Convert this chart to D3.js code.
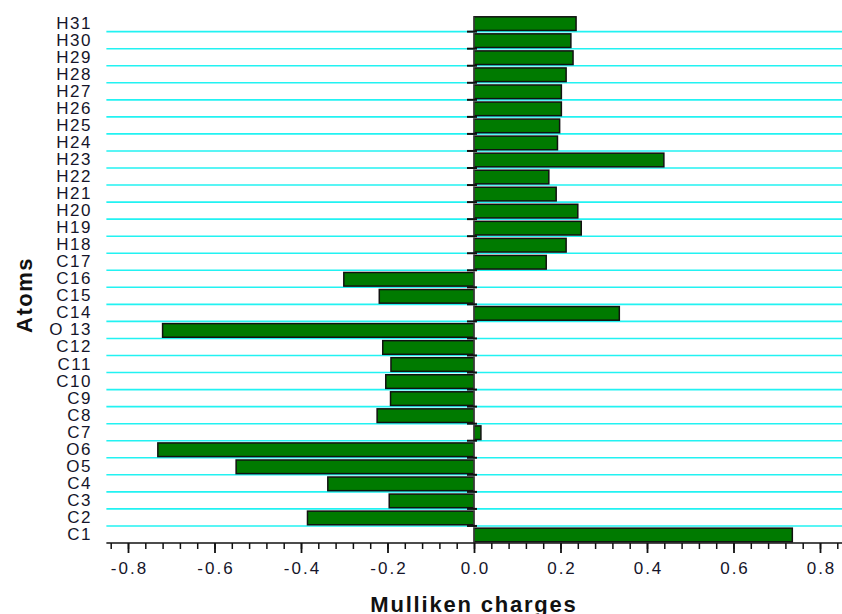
<!DOCTYPE html>
<html lang="en">
<head>
  <meta charset="utf-8">
  <title>Mulliken charges</title>
  <script src="https://cdn.jsdelivr.net/npm/d3@7"></script>
  <style>
    body { margin: 0; background: #fff; }
    svg { display: block; font-family: Arial, "Liberation Sans", sans-serif; }
  </style>
</head>
<body>
  <div id="chart"></div>

  <script>
    // atoms from top (H31) to bottom (C1)
    const atoms = ["H31", "H30", "H29", "H28", "H27", "H26", "H25", "H24", "H23", "H22",
      "H21", "H20", "H19", "H18", "C17", "C16", "C15", "C14", "O 13", "C12",
      "C11", "C10", "C9", "C8", "C7", "O6", "O5", "C4", "C3", "C2", "C1"]
    const charges = [0.236, 0.224, 0.229, 0.213, 0.202, 0.202, 0.198, 0.193, 0.439, 0.173,
      0.190, 0.240, 0.248, 0.213, 0.167, -0.301, -0.219, 0.336, -0.720, -0.211,
      -0.192, -0.204, -0.193, -0.224, 0.016, -0.731, -0.550, -0.338, -0.196, -0.385, 0.736]
    const majorTicks = [-0.8, -0.6, -0.4, -0.2, 0, 0.2, 0.4, 0.6, 0.8]
    const minorTicks = d3.range(-21, 22).map(i => i * 0.04)

    const width = 842, height = 614
    const svg = d3.select("#chart").append("svg")
      .attr("width", width).attr("height", height)

    const plotTop = 14.6, plotBottom = 543
    const x = d3.scaleLinear().domain([-0.8, 0.8]).range([128, 820])
    const y = d3.scaleBand().domain(atoms).range([plotTop, plotBottom]).paddingInner(0.2).paddingOuter(0.1)
    const step = y.step()

    // cyan separators between rows
    svg.append("g").selectAll("line")
      .data(d3.range(1, atoms.length))
      .join("line")
      .attr("x1", x(-0.85)).attr("x2", width)
      .attr("y1", i => plotTop + i * step).attr("y2", i => plotTop + i * step)
      .attr("stroke", "#22f2f2").attr("stroke-width", 1.6)

    // bars
    svg.append("g").selectAll("rect")
      .data(atoms)
      .join("rect")
      .attr("x", (d, i) => Math.min(x(0), x(charges[i])))
      .attr("y", d => y(d) + 0.5)
      .attr("width", (d, i) => Math.abs(x(charges[i]) - x(0)))
      .attr("height", y.bandwidth())
      .attr("fill", "#007a00")
      .attr("stroke", "#111").attr("stroke-width", 1.5)

    // zero line with small ticks at row boundaries
    svg.append("line")
      .attr("x1", x(0)).attr("x2", x(0))
      .attr("y1", y(atoms[0]) + 0.5).attr("y2", plotBottom)
      .attr("stroke", "#555").attr("stroke-width", 1)
    svg.append("g").selectAll("line")
      .data(d3.range(1, atoms.length))
      .join("line")
      .attr("x1", x(0) - 7).attr("x2", x(0) + 3)
      .attr("y1", i => plotTop + i * step).attr("y2", i => plotTop + i * step)
      .attr("stroke", "#111").attr("stroke-width", 2)

    // x axis
    svg.append("line")
      .attr("x1", x(-0.85)).attr("x2", width)
      .attr("y1", plotBottom).attr("y2", plotBottom)
      .attr("stroke", "#111").attr("stroke-width", 1.5)

    const minorAxis = svg.append("g")
      .attr("transform", `translate(0,${plotBottom})`)
      .call(d3.axisBottom(x).tickValues(minorTicks).tickSize(6).tickFormat(""))
    minorAxis.select(".domain").remove()
    minorAxis.selectAll(".tick line").attr("stroke", "#111").attr("stroke-width", 1.5)

    const majorAxis = svg.append("g")
      .attr("transform", `translate(0,${plotBottom})`)
      .call(d3.axisBottom(x).tickValues(majorTicks).tickSize(10).tickPadding(9)
        .tickFormat(d3.format(".1f")))
    majorAxis.select(".domain").remove()
    majorAxis.selectAll(".tick line").attr("stroke", "#111").attr("stroke-width", 1.8)
    majorAxis.selectAll(".tick text")
      .attr("font-size", 17).attr("fill", "#15152a")
      .attr("font-family", "Arial, 'Liberation Sans', sans-serif")
      .attr("letter-spacing", "2px")
      .attr("dx", "1px")
      .text(d => d3.format(".1f")(d).replace("−", "-"))

    // atom labels
    svg.append("g").selectAll("text")
      .data(atoms)
      .join("text")
      .attr("x", 92)
      .attr("y", d => y(d) + y.bandwidth() / 2 + 5.5)
      .attr("text-anchor", "end")
      .attr("font-size", 17)
      .attr("letter-spacing", "1.5px")
      .attr("fill", "#15152a")
      .text(d => d)

    // axis titles
    svg.append("text")
      .attr("transform", `translate(32,295) rotate(-90)`)
      .attr("text-anchor", "middle")
      .attr("font-size", 22).attr("font-weight", "bold")
      .attr("letter-spacing", "1.5px")
      .attr("fill", "#111")
      .text("Atoms")

    svg.append("text")
      .attr("x", 474).attr("y", 612)
      .attr("text-anchor", "middle")
      .attr("font-size", 22).attr("font-weight", "bold")
      .attr("letter-spacing", "1.8px")
      .attr("fill", "#111")
      .text("Mulliken charges")
  </script>
</body>
</html>
